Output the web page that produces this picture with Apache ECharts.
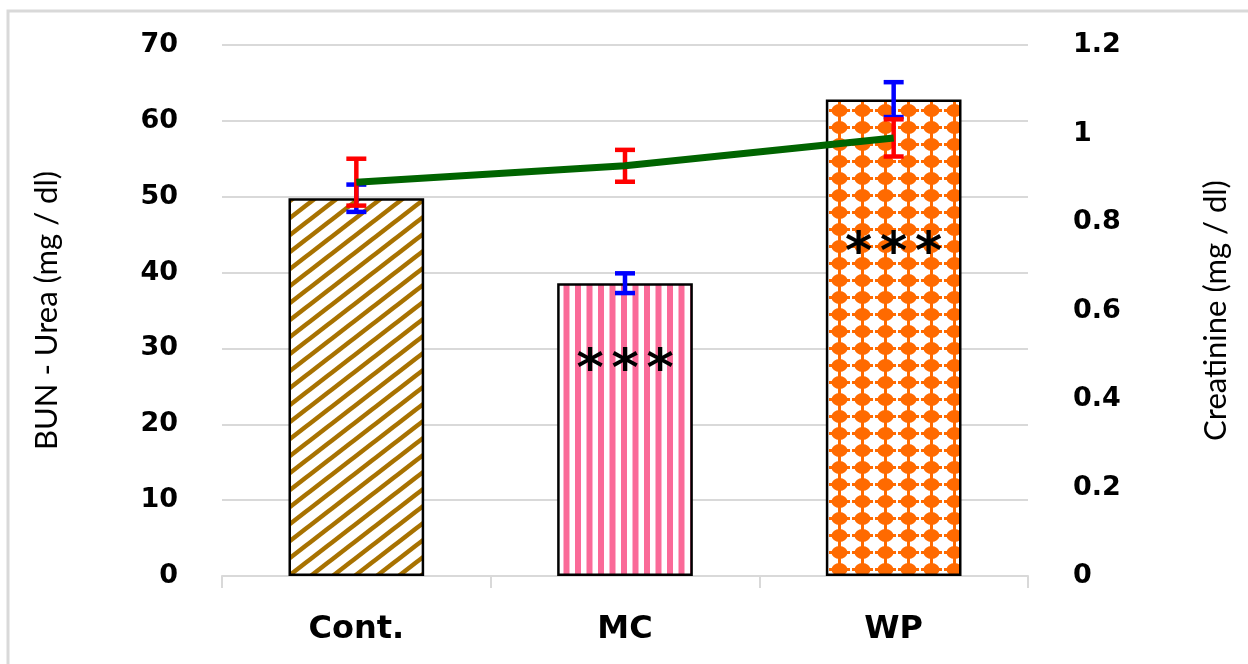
<!DOCTYPE html>
<html>
<head>
<meta charset="utf-8">
<script src="https://cdn.jsdelivr.net/npm/echarts@6/dist/echarts.min.js"></script>
<style>
html,body{margin:0;padding:0;background:#fff;}
#chart{width:1248px;height:664px;}
</style>
</head>
<body>
<div id="chart"></div>
<script>
// ---- data ----
const categories = ['Cont.', 'MC', 'WP'];
const ureaMean = [49.8, 38.6, 62.8];
const ureaErr = [1.8, 1.3, 2.3];
const creatMean = [0.89, 0.927, 0.99];
const creatErr = [0.053, 0.036, 0.042];
const signifText = ['', '***', '***'];
const signifLevel = [null, 27.0, 42.4];
const leftTicks = [0, 10, 20, 30, 40, 50, 60, 70];
const rightTicks = [0, 0.2, 0.4, 0.6, 0.8, 1, 1.2];

// ---- patterns ----
function diagPattern() {
  const W = 22, H = 17;
  const c = document.createElement('canvas'); c.width = W; c.height = H;
  const g = c.getContext('2d');
  g.fillStyle = '#fff'; g.fillRect(0, 0, W, H);
  g.strokeStyle = '#A87200'; g.lineWidth = 4.5;
  for (const dy of [-H, 0, H]) {
    g.beginPath(); g.moveTo(-W, H + dy + H); g.lineTo(2 * W, dy - H); g.stroke();
  }
  return c;
}
function vertPattern() {
  const c = document.createElement('canvas'); c.width = 23; c.height = 4;
  const g = c.getContext('2d');
  g.fillStyle = '#fff'; g.fillRect(0, 0, 23, 4);
  g.fillStyle = '#FA6A98';
  g.fillRect(0, 0, 6, 4); g.fillRect(11.5, 0, 6, 4);
  return c;
}
function dotPattern() {
  const W = 23, H = 17;
  const c = document.createElement('canvas'); c.width = W; c.height = H;
  const g = c.getContext('2d');
  g.fillStyle = '#fff'; g.fillRect(0, 0, W, H);
  g.fillStyle = '#FF6A00';
  const cx = W / 2, cy = H / 2;
  g.beginPath(); g.ellipse(cx, cy, 8, 6.5, 0, 0, Math.PI * 2); g.fill();
  g.fillRect(cx - 10.5, cy - 1.5, 21, 3);
  g.fillRect(cx - 1.5, cy - 8.5, 3, 17);
  return c;
}
const patterns = [diagPattern(), vertPattern(), dotPattern()];

const chart = echarts.init(document.getElementById('chart'), null, {renderer: 'canvas'});

function errItem(color) {
  return function (params, api) {
    const x = api.value(0), m = api.value(1), e = api.value(2);
    const hi = api.coord([x, m + e]);
    const lo = api.coord([x, m - e]);
    const hw = 10;
    const st = {stroke: color, lineWidth: 4.5};
    return {
      type: 'group',
      children: [
        {type: 'line', shape: {x1: hi[0], y1: hi[1], x2: lo[0], y2: lo[1]}, style: st},
        {type: 'line', shape: {x1: hi[0] - hw, y1: hi[1], x2: hi[0] + hw, y2: hi[1]}, style: st},
        {type: 'line', shape: {x1: lo[0] - hw, y1: lo[1], x2: lo[0] + hw, y2: lo[1]}, style: st}
      ]
    };
  };
}

const tickFont = {fontFamily: 'DejaVu Sans', fontWeight: 'bold', fontSize: 27, color: '#000'};
const titleFont = {fontFamily: 'Lato', fontSize: 31, color: '#000'};
const gridColor = '#d9d9d9';

chart.setOption({
  animation: false,
  backgroundColor: '#fff',
  graphic: [{
    type: 'rect', shape: {x: 8, y: 11, width: 1260, height: 680},
    style: {fill: 'none', stroke: '#d9d9d9', lineWidth: 3}, silent: true, z: -10
  }],
  grid: {left: 222, right: 220, top: 45, bottom: 88},
  xAxis: {
    type: 'category', data: categories,
    axisLine: {lineStyle: {color: gridColor, width: 2}},
    axisTick: {show: true, alignWithLabel: false, length: 12, lineStyle: {color: gridColor, width: 2}},
    axisLabel: {margin: 38, fontFamily: 'DejaVu Sans', fontWeight: 'bold', fontSize: 32, color: '#000'}
  },
  yAxis: [{
    type: 'value', min: leftTicks[0], max: leftTicks[leftTicks.length - 1], interval: 10,
    name: 'BUN - Urea (mg / dl)', nameLocation: 'middle', nameGap: 160, nameRotate: 90,
    nameTextStyle: titleFont,
    axisLine: {show: false}, axisTick: {show: false},
    splitLine: {lineStyle: {color: gridColor, width: 2}},
    axisLabel: Object.assign({margin: 44}, tickFont)
  }, {
    type: 'value', min: rightTicks[0], max: rightTicks[rightTicks.length - 1], interval: 0.2,
    name: 'Creatinine (mg / dl)', nameLocation: 'middle', nameGap: 172, nameRotate: 90,
    nameTextStyle: titleFont,
    axisLine: {show: false}, axisTick: {show: false}, splitLine: {show: false},
    axisLabel: Object.assign({margin: 45, formatter: v => String(Math.round(v * 10) / 10)}, tickFont)
  }],
  series: [{
    type: 'bar', yAxisIndex: 0, barWidth: '50.5%',
    data: ureaMean.map((v, i) => ({
      value: v,
      itemStyle: {color: {image: patterns[i], repeat: 'repeat'}, borderColor: '#000', borderWidth: 2.5}
    })),
    z: 2
  }, {
    type: 'custom', yAxisIndex: 0, renderItem: errItem('#0000FF'),
    data: ureaMean.map((v, i) => [i, v, ureaErr[i]]), z: 3
  }, {
    type: 'custom', yAxisIndex: 1, renderItem: errItem('#FF0000'),
    data: creatMean.map((v, i) => [i, v, creatErr[i]]), z: 4
  }, {
    type: 'line', yAxisIndex: 1, data: creatMean, showSymbol: false, symbol: 'none',
    lineStyle: {color: '#006400', width: 7}, z: 5
  }, {
    type: 'custom', yAxisIndex: 0, z: 6,
    renderItem: function (params, api) {
      const idx = api.value(0);
      const p = api.coord([idx, api.value(1)]);
      const chars = signifText[idx].split('');
      const gap = 35;
      return {type: 'group', children: chars.map((ch, k) => ({
        type: 'text', x: p[0] + (k - (chars.length - 1) / 2) * gap, y: p[1],
        style: {text: ch, fill: '#000', align: 'center', verticalAlign: 'middle',
          font: 'bold 52px "DejaVu Sans"'}
      }))};
    },
    data: signifLevel.map((v, i) => [i, v]).filter(d => d[1] != null)
  }]
});
</script>
</body>
</html>
